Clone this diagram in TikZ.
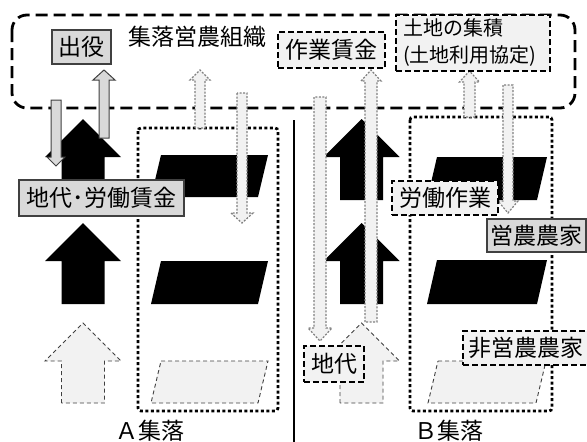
\documentclass[tikz,border=0pt]{standalone}
\usepackage{fontspec}
\setmainfont{Noto Sans CJK JP}
\definecolor{lblfill}{HTML}{D9D9D9}
\definecolor{pale}{HTML}{F2F2F2}
\definecolor{edge}{HTML}{404040}
\definecolor{dotedge}{HTML}{808080}
\tikzset{
  txt/.style={font=\fontsize{23}{26}\selectfont, inner sep=0pt},
  solidlbl/.style={txt, draw=edge, fill=lblfill, line width=1.2pt},
  dashlbl/.style={txt, draw=black, fill=pale, line width=1.8pt, dash pattern=on 6pt off 3pt},
  blackshape/.style={fill=black},
  ghostshape/.style={fill=pale, draw=edge, line width=0.9pt, dash pattern=on 4pt off 3pt},
  grayarrow/.style={fill=lblfill, draw=edge, line width=1pt},
  dotarrow/.style={fill=pale, draw=dotedge, line width=1.2pt, dash pattern=on 2pt off 1.5pt},
  groupbox/.style={draw=black, line width=2.8pt, dash pattern=on 3pt off 2.5pt, rounded corners=3pt},
  orgbox/.style={draw=black, line width=2.8pt, dash pattern=on 12pt off 6pt, rounded corners=15pt},
  divider/.style={draw=black, line width=2.6pt},
}
% style, x centre, y tail, y head base, y tip, half shaft, half head
\newcommand\blkarrow[7]{\path[#1] ({#2-#6},#3) -- ({#2-#6},#4) -- ({#2-#7},#4) -- (#2,#5) -- ({#2+#7},#4) -- ({#2+#6},#4) -- ({#2+#6},#3) -- cycle;}
% style, y top, y bottom, top-left x, width, slant
\newcommand\plgram[6]{\path[#1] (#4,#2) -- ({#4+#5},#2) -- ({#4+#5-#6},#3) -- ({#4-#6},#3) -- cycle;}
\begin{document}
\begin{tikzpicture}[x=1pt,y=-1pt]
\useasboundingbox (0,0) rectangle (587,442);
% organisation frame
\path[orgbox] (12,15) rectangle (575,108);
% village frames
\path[groupbox] (138,128) rectangle (278,411);
\path[groupbox] (410,117) rectangle (552,411);
\path[divider] (294,120) -- (294,442);
% parcels A
\plgram{blackshape}{155}{197}{161}{107}{10}
\plgram{blackshape}{261}{304}{161}{107}{10}
\plgram{ghostshape}{361}{403}{161}{107}{10}
% parcels B
\plgram{blackshape}{157}{200}{437}{110}{10}
\plgram{blackshape}{260}{304}{437}{110}{10}
\plgram{ghostshape}{361}{403}{438}{108}{10}
% big arrows A
\blkarrow{blackshape}{83}{200}{157}{119}{21.5}{38}
\blkarrow{blackshape}{83}{304}{261}{223}{21.5}{38}
\blkarrow{ghostshape}{83}{403}{361}{323}{21.5}{38}
% big arrows B
\blkarrow{blackshape}{361.5}{200}{157}{119}{21.5}{38}
\blkarrow{blackshape}{361.5}{304}{261}{223}{21.5}{38}
\blkarrow{ghostshape}{361.5}{403}{361}{323}{21.5}{38}
% solid grey arrows
\blkarrow{grayarrow}{56}{100}{157}{166}{5}{9}
\blkarrow{grayarrow}{104}{138}{80}{70}{5}{11}
% dotted arrows
\blkarrow{dotarrow}{200}{128}{80}{70}{5}{10}
\blkarrow{dotarrow}{242}{93}{213}{223}{5}{11}
\blkarrow{dotarrow}{320}{97}{328}{341}{6}{12}
\blkarrow{dotarrow}{371}{322}{81}{70}{6}{10}
\blkarrow{dotarrow}{469.5}{117}{82}{71}{5.5}{10}
\blkarrow{dotarrow}{508}{85}{201}{213}{5}{10}
% labels
\node[txt] (org) at (197,37) {集落営農組織};
\node[solidlbl, minimum width=59pt, minimum height=34pt] (deyaku) at (81.5,47) {出役};
\node[dashlbl, minimum width=107pt, minimum height=36pt] (wage) at (331.5,50) {作業賃金};
\node[dashlbl, font=\fontsize{20}{27}\selectfont, minimum width=154pt, minimum height=56pt, text width=140pt, align=left] (land) at (473,43) {土地の集積\\(土地利用協定)};
\node[solidlbl, minimum width=165pt, minimum height=36pt] (rentwage) at (101.5,198) {地代･労働賃金};
\node[dashlbl, minimum width=106pt, minimum height=34pt] (labour) at (445,198) {労働作業};
\node[solidlbl, minimum width=99pt, minimum height=33pt] (farmer) at (536.5,235.5) {営農農家};
\node[dashlbl, minimum width=60pt, minimum height=36pt] (rent) at (334,364) {地代};
\node[dashlbl, minimum width=125pt, minimum height=34pt] (nonfarmer) at (525.5,348) {非営農農家};
\node[txt] (villA) at (150,431) {Ａ集落};
\node[txt] (villB) at (449,431) {Ｂ集落};
\end{tikzpicture}
\end{document}
